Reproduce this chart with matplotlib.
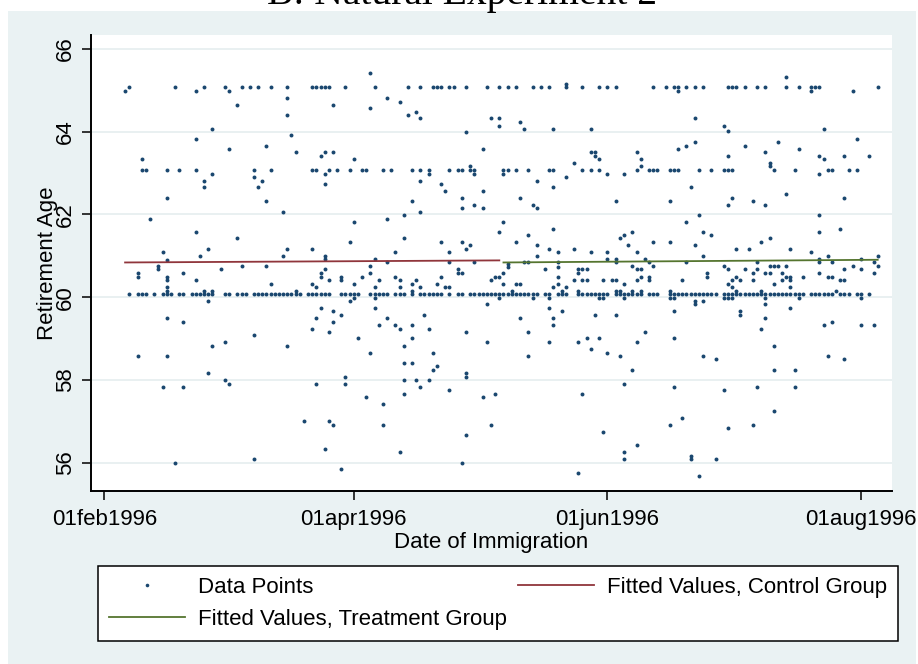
import numpy as np
import matplotlib
matplotlib.use("Agg")
import matplotlib.pyplot as plt
from matplotlib.lines import Line2D
from matplotlib.patches import Rectangle

plt.rcParams['font.family'] = ['Liberation Sans', 'DejaVu Sans']

# x values are days since 01feb1996
start = np.datetime64("1996-02-01")
tick_dates = ["1996-02-01", "1996-04-01", "1996-06-01", "1996-08-01"]
tick_labels = ["01feb1996", "01apr1996", "01jun1996", "01aug1996"]
age_ticks = [56, 58, 60, 62, 64, 66]

# the three dense rows of points (60 + 1 month, 63 + 1 month, 65 + 1 month)
band_60_days = [6, 8, 9, 10, 12, 14, 15, 16, 18, 19, 21, 22, 23, 24, 25, 26, 29, 30,
                32, 33, 34, 36, 37, 38, 39, 40, 41, 42, 43, 44, 45, 46, 47, 49,
                50, 51, 52, 53, 54, 57, 58, 59, 60, 61, 64, 65, 66, 67, 68, 70, 71,
                72, 74, 76, 77, 78, 79, 80, 81, 83, 85, 86, 88, 89, 90, 91, 92, 93,
                94, 95, 96, 97, 98, 99, 100, 101, 102, 103, 104, 106, 107, 109, 110,
                111, 114, 115, 116, 117, 118, 119, 120, 121, 123, 124, 125, 126, 127,
                128, 129, 131, 132, 133, 136, 137, 138, 139, 140, 141, 142, 143, 144,
                145, 146, 147, 149, 150, 151, 152, 153, 154, 155, 156, 157, 158, 159,
                160, 161, 162, 163, 164, 165, 166, 167, 168, 170, 171, 172, 173, 174,
                175, 177, 178, 179, 181, 182, 184]
band_63_days = [9, 10, 15, 18, 22, 36, 40, 50, 51, 54, 56, 59, 62, 63, 67, 69, 74, 76,
                78, 83, 85, 86, 88, 89, 96, 97, 99, 102, 107, 108, 115, 117, 119, 128,
                131, 132, 133, 136, 137, 138, 143, 146, 149, 150, 151, 161, 166, 174,
                175, 179, 181]
band_65_days = [6, 17, 24, 29, 33, 35, 37, 40, 44, 50, 51, 52, 53, 54, 58, 65, 73, 76,
                79, 80, 81, 83, 84, 87, 92, 95, 97, 99, 103, 105, 107, 111, 115, 119,
                121, 123, 132, 135, 137, 138, 140, 142, 144, 150, 151, 152, 154, 157,
                159, 164, 167, 170, 171, 172, 186]

# scattered points above 61.5
upper_days = [
    5, 22, 30, 32, 44, 44, 26, 22, 45, 39,
    30, 46, 9, 26, 36, 24, 38, 24, 37, 15,
    39, 43, 11, 22,
    64, 55, 64, 68, 71, 73, 75, 76, 93, 95,
    95, 87, 91, 53, 55, 52, 60, 53, 78, 88,
    89, 76, 53, 81, 82, 91, 86, 74, 89, 86,
    91, 76, 72, 68, 60, 95,
    111, 138, 100, 101, 108, 117, 117, 118, 118, 119,
    128, 129, 138, 113, 129, 96, 111, 121, 125, 104,
    108, 100, 103, 104, 123, 136, 96, 108, 102, 127,
    164, 170, 180, 142, 149, 150, 173, 140, 142, 154,
    162, 167, 181, 159, 150, 172, 173, 178, 184, 160,
    160, 172, 141, 151, 150, 156, 159, 164, 178, 143,
    172, 140, 144, 146, 172, 177,
]
upper_ages = [
    64.99, 64.99, 64.99, 64.65, 64.82, 64.40, 64.06, 63.83, 63.92, 63.66,
    63.58, 63.50, 63.33, 62.99, 62.91, 62.82, 62.82, 62.66, 62.66, 62.41,
    62.33, 62.07, 61.90, 61.58,
    65.41, 64.65, 64.57, 64.82, 64.73, 64.40, 64.48, 64.32, 64.32, 64.32,
    64.15, 64.00, 63.58, 63.50, 63.50, 63.41, 63.33, 62.99, 62.99, 63.16,
    62.99, 62.82, 62.74, 62.74, 62.57, 62.57, 62.41, 62.33, 62.24, 62.16,
    62.16, 62.07, 61.99, 61.90, 61.82, 61.58,
    65.15, 64.99, 64.23, 64.06, 64.06, 64.06, 63.50, 63.50, 63.41, 63.33,
    63.50, 63.33, 63.58, 63.24, 63.16, 62.99, 62.91, 62.99, 62.99, 62.82,
    62.66, 62.41, 62.24, 62.16, 62.33, 62.33, 61.82, 61.65, 61.50, 61.58,
    65.33, 64.99, 64.99, 64.32, 64.15, 64.01, 64.06, 63.66, 63.75, 63.66,
    63.75, 63.58, 63.83, 63.50, 63.41, 63.41, 63.33, 63.41, 63.41, 63.24,
    63.16, 62.99, 62.66, 62.41, 62.24, 62.33, 62.24, 62.49, 62.41, 61.99,
    61.99, 61.82, 61.58, 61.50, 61.58, 61.65,
]

# scattered points between 60.1 and 61.5
mid_days = [
    32, 25, 44, 14, 23, 43, 15, 33, 39, 28,
    13, 13, 19, 8, 8, 15, 15, 22, 40, 15,
    15, 24, 26, 46,
    72, 59, 81, 86, 50, 88, 87, 70, 83, 53,
    53, 65, 68, 83, 89, 64, 53, 85, 85, 86,
    52, 52, 64, 62, 54, 57, 57, 66, 70, 71,
    75, 60, 94, 95, 93, 50, 51, 65, 71, 74,
    76, 80, 81, 82, 83, 74,
    124, 125, 99, 104, 126, 132, 136, 107, 113, 104,
    109, 117, 121, 128, 121, 123, 123, 130, 131, 132,
    97, 97, 101, 102, 109, 109, 127, 128, 129, 96,
    106, 114, 114, 115, 116, 109, 129, 131, 131, 99,
    100, 96, 113, 115, 116, 120, 122, 123, 125, 128,
    139, 108, 110, 111, 109, 98, 114, 123, 124, 127,
    129, 136,
    142, 158, 160, 144, 152, 155, 165, 170, 174, 186,
    140, 149, 150, 157, 160, 161, 162, 164, 172, 172,
    175, 182, 180, 186, 185, 145, 145, 154, 156, 157,
    159, 160, 163, 164, 165, 165, 168, 172, 174, 175,
    178, 182, 185, 151, 152, 153, 156, 150, 151, 152,
    158, 161, 163, 165, 176, 177, 178,
]
mid_ages = [
    61.42, 61.17, 61.17, 61.09, 61.00, 61.00, 60.91, 60.75, 60.75, 60.67,
    60.75, 60.67, 60.58, 60.58, 60.50, 60.50, 60.42, 60.42, 60.33, 60.24,
    60.16, 60.16, 60.16, 60.16,
    61.42, 61.33, 61.33, 61.33, 61.17, 61.25, 61.17, 61.09, 61.09, 61.00,
    60.92, 60.92, 60.84, 60.84, 60.84, 60.75, 60.67, 60.67, 60.58, 60.58,
    60.58, 60.50, 60.58, 60.50, 60.42, 60.50, 60.42, 60.42, 60.50, 60.42,
    60.42, 60.33, 60.50, 60.50, 60.42, 60.33, 60.24, 60.24, 60.24, 60.33,
    60.24, 60.33, 60.50, 60.24, 60.24, 60.16,
    61.42, 61.50, 61.33, 61.25, 61.25, 61.33, 61.33, 61.17, 61.17, 61.00,
    61.09, 61.09, 61.09, 61.09, 60.92, 60.92, 60.84, 60.92, 60.84, 60.75,
    60.80, 60.74, 60.84, 60.84, 60.84, 60.74, 60.75, 60.67, 60.67, 60.58,
    60.67, 60.67, 60.58, 60.67, 60.67, 60.50, 60.50, 60.50, 60.42, 60.33,
    60.33, 60.33, 60.42, 60.42, 60.42, 60.42, 60.42, 60.42, 60.33, 60.42,
    60.42, 60.24, 60.16, 60.24, 60.33, 60.16, 60.16, 60.16, 60.16, 60.16,
    60.16, 60.16,
    61.25, 61.33, 61.42, 61.00, 61.17, 61.17, 61.17, 61.09, 61.00, 61.00,
    60.84, 60.75, 60.67, 60.84, 60.75, 60.75, 60.75, 60.75, 60.92, 60.84,
    60.84, 60.92, 60.75, 60.75, 60.84, 60.58, 60.50, 60.67, 60.58, 60.67,
    60.58, 60.58, 60.58, 60.50, 60.50, 60.42, 60.50, 60.58, 60.50, 60.50,
    60.67, 60.67, 60.58, 60.42, 60.50, 60.42, 60.42, 60.33, 60.24, 60.16,
    60.16, 60.33, 60.42, 60.24, 60.16, 60.42, 60.42,
]

# scattered points below 60
low_days = [
    25, 15, 19, 36, 29, 26, 44, 8, 15, 25,
    29, 30, 14, 19, 48, 36, 17,
    60, 65, 59, 52, 65, 55, 51, 68, 57, 77,
    55, 50, 66, 70, 71, 74, 78, 54, 87, 61,
    74, 92, 72, 64, 79, 72, 74, 79, 80, 87,
    87, 58, 58, 51, 72, 75, 78, 76, 83, 72,
    94, 63, 91, 67, 54, 55, 67, 93, 87, 53,
    71, 86, 57, 92,
    95, 103, 107, 119, 120, 125, 136, 137, 107, 110,
    100, 108, 108, 118, 123, 102, 130, 107, 114, 116,
    119, 117, 128, 137, 121, 124, 102, 127, 125, 137,
    115, 136, 139, 120, 128, 125, 125, 114, 137,
    142, 142, 149, 150, 151, 159, 167, 182, 144, 159,
    153, 153, 165, 159, 158, 173, 175, 182, 185, 161,
    144, 147, 174, 178, 161, 166, 149, 157, 166, 161,
    150, 156, 141, 141, 147, 143,
]
low_ages = [
    59.91, 59.49, 59.40, 59.09, 58.92, 58.83, 58.83, 58.58, 58.58, 58.16,
    58.00, 57.91, 57.83, 57.83, 57.00, 56.09, 56.00,
    59.99, 59.99, 59.91, 59.74, 59.74, 59.66, 59.49, 59.49, 59.57, 59.57,
    59.40, 59.24, 59.32, 59.32, 59.24, 59.32, 59.24, 59.15, 59.15, 59.01,
    59.01, 58.92, 58.83, 58.66, 58.66, 58.41, 58.41, 58.25, 58.33, 58.16,
    58.08, 58.08, 57.91, 57.91, 58.00, 58.00, 58.00, 57.83, 57.75, 57.66,
    57.66, 57.58, 57.58, 57.41, 57.00, 56.91, 56.91, 56.91, 56.67, 56.33,
    56.25, 56.00, 55.84, 59.83,
    59.99, 59.99, 59.99, 59.99, 59.99, 59.99, 59.99, 59.99, 59.74, 59.66,
    59.49, 59.49, 59.32, 59.57, 59.57, 59.15, 59.15, 58.92, 58.92, 59.01,
    59.01, 58.75, 58.92, 59.01, 58.66, 58.58, 58.58, 58.25, 57.91, 57.83,
    57.66, 56.91, 57.08, 56.74, 56.42, 56.25, 56.09, 55.75, 59.66,
    59.91, 59.83, 59.99, 59.99, 59.99, 59.99, 59.99, 59.99, 59.91, 59.83,
    59.66, 59.57, 59.74, 59.49, 59.24, 59.32, 59.40, 59.32, 59.32, 58.83,
    58.58, 58.50, 58.58, 58.50, 58.25, 58.25, 57.75, 57.83, 57.83, 57.24,
    56.83, 56.91, 56.17, 56.09, 56.09, 55.67,
]

# fitted values (end points of each group's line)
control_days = [5, 95]
control_fit = [60.84, 60.89]
treat_days = [96, 186]
treat_fit = [60.84, 60.905]

assert len(upper_days) == len(upper_ages)
assert len(mid_days) == len(mid_ages)
assert len(low_days) == len(low_ages)

days = np.concatenate([band_60_days, band_63_days, band_65_days,
                       upper_days, mid_days, low_days]).astype(float)
ages = np.concatenate([[60.08] * len(band_60_days), [63.08] * len(band_63_days),
                       [65.08] * len(band_65_days), upper_ages, mid_ages, low_ages])

navy = '#1a476f'
maroon = '#90353b'
green = '#55752f'
region = '#eaf2f3'

fig = plt.figure(figsize=(9.18, 6.64), dpi=100)
fig.add_artist(Rectangle((8 / 918, 0), 908 / 918, 653 / 664, transform=fig.transFigure,
                         facecolor=region, edgecolor='none', zorder=-10))

ax = fig.add_axes([90.7 / 918, 1 - 491 / 664, 801 / 918, 456 / 664])
ax.set_facecolor('white')

ax.scatter(days, ages, s=8, marker='o', color=navy, linewidths=0, zorder=3)
ax.plot(control_days, control_fit, color=maroon, lw=1.3, zorder=4)
ax.plot(treat_days, treat_fit, color=green, lw=1.3, zorder=4)

ax.set_xlim(-3.27, 189.37)
ax.set_ylim(55.316, 66.338)

tick_pos = (np.array(tick_dates, dtype='datetime64[D]') - start).astype(int)
ax.set_xticks(tick_pos)
ax.set_xticklabels(tick_labels)
ax.set_yticks(age_ticks)
ax.set_yticklabels([str(a) for a in age_ticks])

ax.yaxis.grid(True, color='#e3ecee', lw=1.1)
ax.set_axisbelow(True)

for side in ['top', 'right']:
    ax.spines[side].set_visible(False)
for side in ['left', 'bottom']:
    ax.spines[side].set_linewidth(1.4)
    ax.spines[side].set_color('black')

ax.tick_params(axis='x', direction='out', length=6.3, width=1.1, labelsize=16, pad=7)
ax.tick_params(axis='y', direction='out', length=6.5, width=1.1, labelsize=16, pad=4.3,
               labelrotation=90)
for lab in ax.get_yticklabels():
    lab.set_verticalalignment('center')

ax.set_xlabel('Date of Immigration', fontsize=16)
ax.xaxis.set_label_coords(0.5, -0.091)
ax.set_ylabel('Retirement Age', fontsize=16)
ax.yaxis.set_label_coords(-0.041, 0.5)

fig.text(461.7 / 918, 1 - 4.3 / 664, 'B: Natural Experiment 2', ha='center',
         va='baseline', fontsize=28.5, family='Liberation Serif')

h_data = Line2D([], [], ls='none', marker='o', ms=2.6, mew=0, color=navy)
h_ctrl = Line2D([], [], color=maroon, lw=1.3)
h_treat = Line2D([], [], color=green, lw=1.3)
leg = fig.legend([h_data, h_treat, h_ctrl],
                 ['Data Points', 'Fitted Values, Treatment Group',
                  'Fitted Values, Control Group'],
                 ncol=2, loc='upper left', bbox_to_anchor=(97.7 / 918, 1 - 566 / 664),
                 bbox_transform=fig.transFigure, fontsize=16, frameon=True,
                 fancybox=False, edgecolor='black', framealpha=1, borderaxespad=0,
                 borderpad=0.5, handlelength=3.45, handletextpad=0.55,
                 columnspacing=0.5, labelspacing=0.48)
leg.get_frame().set_linewidth(1.1)

fig.savefig('out.png', dpi=100)
